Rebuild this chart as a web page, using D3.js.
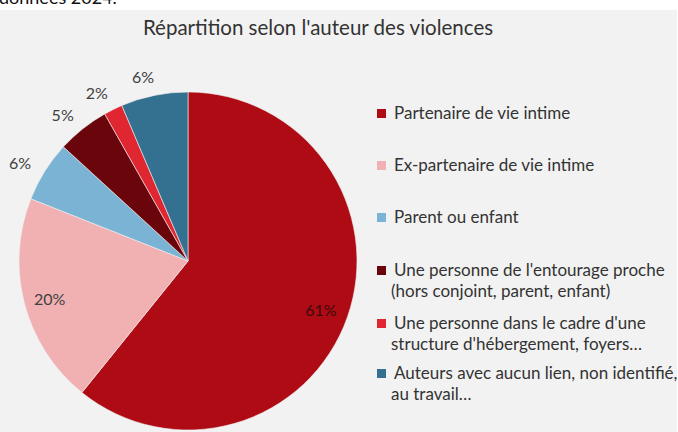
<!DOCTYPE html>
<html>
<head>
<meta charset="utf-8">
<script src="https://cdn.jsdelivr.net/npm/d3@7"></script>
<style>
  html, body { margin: 0; padding: 0; background: #fff; }
  svg { display: block; font-family: Lato, "Open Sans", sans-serif; }
</style>
</head>
<body>
<div id="chart"></div>
<script>
const categories = [
    "Partenaire de vie intime",
    "Ex-partenaire de vie intime",
    "Parent ou enfant",
    "Une personne de l'entourage proche (hors conjoint, parent, enfant)",
    "Une personne dans le cadre d'une structure d'hébergement, foyers…",
    "Auteurs avec aucun lien, non identifié, au travail…"
];
const values = [60.8, 20.2, 5.8, 5.0, 1.8, 6.4];
const labels = ["61%", "20%", "6%", "5%", "2%", "6%"];
// how the legend wraps each entry
const legendLines = [
    ["Partenaire de vie intime"],
    ["Ex-partenaire de vie intime"],
    ["Parent ou enfant"],
    ["Une personne de l'entourage proche", "(hors conjoint, parent, enfant)"],
    ["Une personne dans le cadre d'une", "structure d'hébergement, foyers…"],
    ["Auteurs avec aucun lien, non identifié,", "au travail…"]
];
const colors = ["#AF0B14", "#F1B1B3", "#7AB3D3", "#6B050C", "#DF2631", "#34708F"];

const width = 678, height = 432;

const svg = d3.select("#chart")
    .append("svg")
    .attr("width", width)
    .attr("height", height);

// text cut off at the top of the screenshot
svg.append("text")
    .attr("x", -1)
    .attr("y", 4)
    .style("font-size", "18px")
    .style("fill", "#111")
    .text("données 2024.");

// chart panel
svg.append("rect")
    .attr("x", 0)
    .attr("y", 10)
    .attr("width", 677)
    .attr("height", height - 10)
    .attr("fill", "#F2F2F2");

svg.append("text")
    .attr("x", 318)
    .attr("y", 35)
    .attr("text-anchor", "middle")
    .style("font-size", "20.5px")
    .style("fill", "#333")
    .text("Répartition selon l'auteur des violences");

// pie
const cx = 188, cy = 261, r = 169;
const data = categories.map((c, i) => ({name: c, value: values[i], label: labels[i], color: colors[i]}));

const pie = d3.pie().sort(null).value(d => d.value);
const arc = d3.arc().innerRadius(0).outerRadius(r);
const arcsData = pie(data);

const g = svg.append("g")
    .attr("transform", "translate(" + cx + "," + cy + ")");

g.selectAll("path")
    .data(arcsData)
    .enter()
    .append("path")
    .attr("d", arc)
    .attr("fill", d => d.data.color)
    .attr("stroke", "#F2F2F2")
    .attr("stroke-width", 0.6);

// big slices get the label inside, small ones outside
const inArc = d3.arc().innerRadius(142).outerRadius(142);
const outArc = d3.arc().innerRadius(190).outerRadius(190);

g.selectAll(".lbl")
    .data(arcsData)
    .enter()
    .append("text")
    .attr("class", "lbl")
    .attr("transform", d => {
        let p = (d.data.value > 10 ? inArc : outArc).centroid(d);
        let off = d.data.value > 10 ? [-1, 2] : [-7, 3];
        return "translate(" + (p[0] + off[0]) + "," + (p[1] + off[1]) + ")";
    })
    .attr("text-anchor", "middle")
    .attr("dy", "0.35em")
    .style("font-size", "16px")
    .style("fill", d => d.data.value > 50 ? "#3a0a0c" : "#404040")
    .text(d => d.data.label);

// legend
const legendY = [113, 165, 217, 270, 323, 373];
const leg = svg.append("g");
data.forEach((d, i) => {
    leg.append("rect")
        .attr("x", 377)
        .attr("y", legendY[i] - 4)
        .attr("width", 9)
        .attr("height", 9)
        .attr("fill", d.color);
    legendLines[i].forEach((line, j) => {
        leg.append("text")
            .attr("x", j === 0 ? 394 : 391)
            .attr("y", legendY[i] + 6 + j * 21)
            .style("font-size", "17px")
            .style("fill", "#333")
            .text(line);
    });
});
</script>
</body>
</html>
